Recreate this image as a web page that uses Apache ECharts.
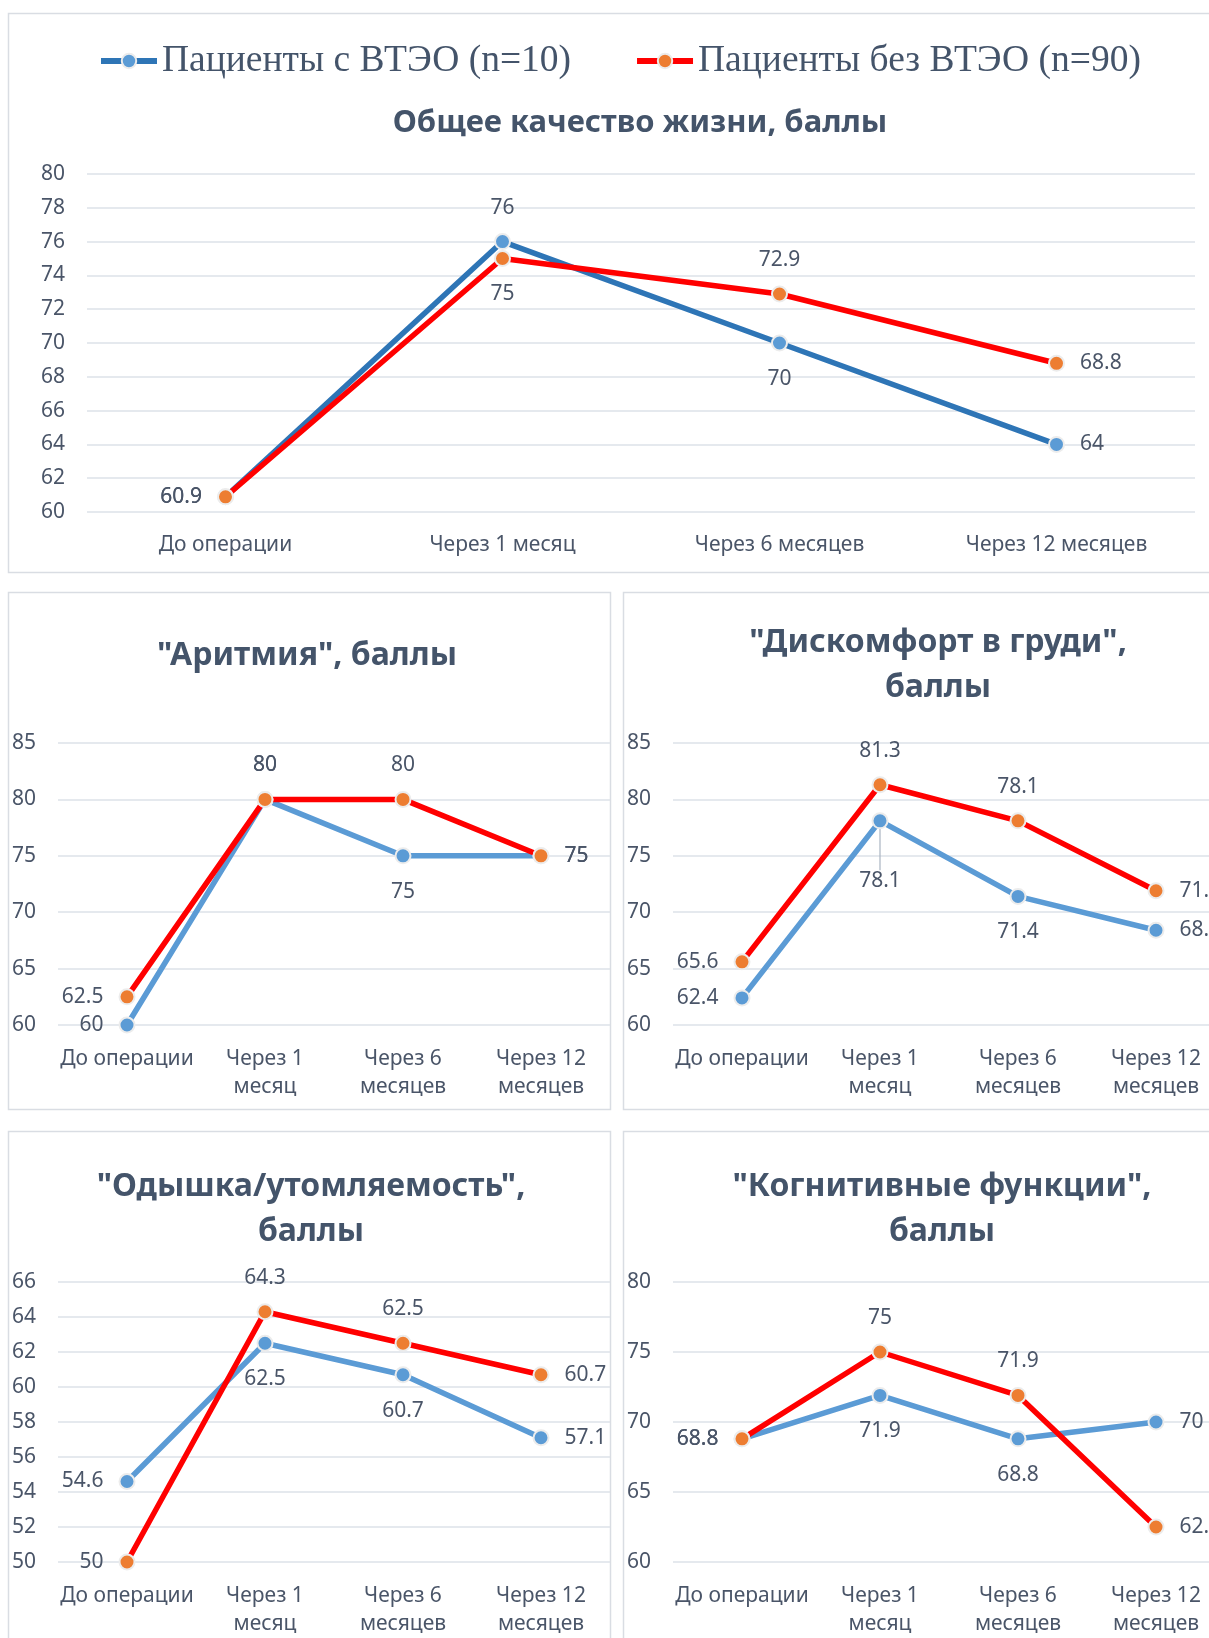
<!DOCTYPE html>
<html><head><meta charset="utf-8">
<script src="https://cdn.jsdelivr.net/npm/echarts@6/dist/echarts.min.js"></script>
<style>html,body{margin:0;padding:0;background:#fff;overflow:hidden}#c{width:1240px;height:1638px}</style>
</head><body><div id="c"></div>
<script>
const categories = ['До операции', 'Через 1 месяц', 'Через 6 месяцев', 'Через 12 месяцев'];
const seriesNames = ['Пациенты с ВТЭО (n=10)', 'Пациенты без ВТЭО (n=90)'];
const titles = ['Общее качество жизни, баллы', '"Аритмия", баллы', '"Дискомфорт в груди",\nбаллы', '"Одышка/утомляемость",\nбаллы', '"Когнитивные функции",\nбаллы'];

const qolBlue = [60.9, 76, 70, 64];
const qolRed = [60.9, 75, 72.9, 68.8];
const arrBlue = [60, 80, 75, 75];
const arrRed = [62.5, 80, 80, 75];
const disBlue = [62.4, 78.1, 71.4, 68.4];
const disRed = [65.6, 81.3, 78.1, 71.9];
const dysBlue = [54.6, 62.5, 60.7, 57.1];
const dysRed = [50, 64.3, 62.5, 60.7];
const cogBlue = [68.8, 71.9, 68.8, 70];
const cogRed = [68.8, 75, 71.9, 62.5];

const qolTicks = [60, 80, 2];
const arrTicks = [60, 85, 5];
const disTicks = [60, 85, 5];
const dysTicks = [50, 66, 2];
const cogTicks = [60, 80, 5];

// label placement (style, not data)
const posBlue = [
  ['left', 'top', 'bottom', 'right'],
  ['left', 'top', 'bottom', 'right'],
  ['left', 'bottom', 'bottom', 'right'],
  ['left', 'bottom', 'bottom', 'right'],
  ['left', 'bottom', 'bottom', 'right']
];
const posRed = [
  ['left', 'bottom', 'top', 'right'],
  ['left', 'top', 'top', 'right'],
  ['left', 'top', 'top', 'right'],
  ['left', 'top', 'top', 'right'],
  ['left', 'top', 'top', 'right']
];

const panels = [
  { blue: qolBlue, red: qolRed, ticks: qolTicks, grid: { left: 87, top: 174, width: 1108, height: 338 }, blueLine: '#2e75b6', wrap: false, title: [635, 96], tsize: 31, margin: 19 },
  { blue: arrBlue, red: arrRed, ticks: arrTicks, grid: { left: 58, top: 743, width: 552, height: 282 }, blueLine: '#5b9bd5', wrap: true, title: [302, 628], tsize: 32, margin: 20 },
  { blue: disBlue, red: disRed, ticks: disTicks, grid: { left: 673, top: 743, width: 552, height: 282 }, blueLine: '#5b9bd5', wrap: true, title: [933, 615], tsize: 32, margin: 20 },
  { blue: dysBlue, red: dysRed, ticks: dysTicks, grid: { left: 58, top: 1282, width: 552, height: 281 }, blueLine: '#5b9bd5', wrap: true, title: [306, 1159], tsize: 32, margin: 20 },
  { blue: cogBlue, red: cogRed, ticks: cogTicks, grid: { left: 673, top: 1282, width: 552, height: 281 }, blueLine: '#5b9bd5', wrap: true, title: [937, 1159], tsize: 32, margin: 20 }
];

const FONT = '"Noto Sans", sans-serif';
const TXT = '#4a5568';
const TITLE_C = '#44546a';

const grids = [], xAxes = [], yAxes = [], series = [], titleComps = [];
panels.forEach((p, i) => {
  grids.push(Object.assign({}, p.grid));
  xAxes.push({
    type: 'category', gridIndex: i, data: categories, boundaryGap: true,
    axisLine: { show: false }, axisTick: { show: false },
    axisLabel: {
      color: TXT, fontFamily: FONT, fontSize: 21, margin: p.margin, lineHeight: 28, interval: 0,
      formatter: v => p.wrap ? v.replace(/^(Через \d+) /, '$1\n') : v
    }
  });
  yAxes.push({
    type: 'value', gridIndex: i, min: p.ticks[0], max: p.ticks[1], interval: p.ticks[2],
    axisLine: { show: false }, axisTick: { show: false },
    splitLine: { lineStyle: { color: '#dde2e8', width: 1.5 } },
    axisLabel: { color: TXT, fontFamily: FONT, fontSize: 21, margin: 22 }
  });
  const mk = (vals, pos, name, lineColor, fill, leader) => {
    const s = {
      type: 'line', name, xAxisIndex: i, yAxisIndex: i,
      data: vals.map((v, k) => {
        const item = { value: v, label: { position: pos[k], distance: pos[k] === 'bottom' ? 17 : 15 } };
        if (leader && k === 1) item.labelLine = { show: true, lineStyle: { color: '#a9b4c2', width: 1.2 } };
        return item;
      }),
      symbol: 'circle', symbolSize: 15,
      lineStyle: { color: lineColor, width: 5.5 },
      itemStyle: { color: fill, borderColor: '#ececec', borderWidth: 2 },
      label: { show: true, color: TXT, fontFamily: FONT, fontSize: 21 },
      labelLine: { show: false },
      emphasis: { disabled: true },
      animation: false, z: 2
    };
    if (leader) {
      s.labelLayout = params => params.dataIndex === 1 ? { dy: 24 } : {};
    }
    return s;
  };
  series.push(mk(p.blue, posBlue[i], seriesNames[0], p.blueLine, '#5b9bd5', i === 2));
  series.push(mk(p.red, posRed[i], seriesNames[1], '#ff0000', '#ed7d31', false));
  titleComps.push({
    text: titles[i], left: p.title[0], top: p.title[1], textAlign: 'center',
    textStyle: { color: TITLE_C, fontFamily: FONT, fontWeight: 'bold', fontSize: p.tsize, lineHeight: 45 }
  });
});

const borders = [
  [8, 13, 1260, 559],
  [8, 592, 602, 517],
  [623, 592, 640, 517],
  [8, 1131, 602, 560],
  [623, 1131, 640, 560]
].map(r => ({ type: 'rect', shape: { x: r[0] + 0.5, y: r[1] + 0.5, width: r[2], height: r[3] }, style: { fill: 'none', stroke: '#d9dde3', lineWidth: 1.5 }, silent: true, z: -1 }));

const chart = echarts.init(document.getElementById('c'), null, { renderer: 'canvas' });
chart.setOption({
  backgroundColor: '#ffffff',
  animation: false,
  title: titleComps,
  legend: {
    data: seriesNames, left: 93, top: 37, itemWidth: 56, itemHeight: 18, itemGap: 63,
    lineStyle: { width: 6 },
    textStyle: { color: TITLE_C, fontFamily: '"Liberation Serif", "Times New Roman", serif', fontSize: 37.5 }
  },
  graphic: borders,
  grid: grids, xAxis: xAxes, yAxis: yAxes, series
});
</script></body></html>
